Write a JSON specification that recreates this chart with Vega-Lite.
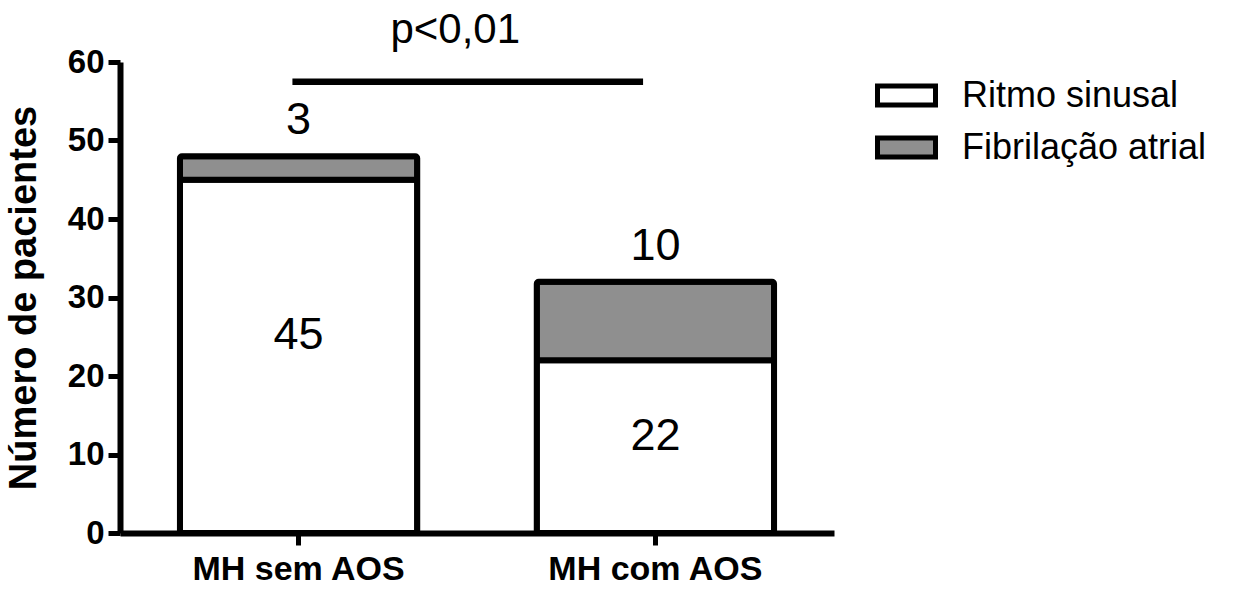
{
  "$schema": "https://vega.github.io/schema/vega-lite/v6.json",
  "autosize": "none",
  "width": 714,
  "height": 471,
  "padding": {"left": 120, "top": 62, "right": 407, "bottom": 58},
  "background": "white",
  "config": {
    "view": {"stroke": null},
    "font": "Liberation Sans",
    "axis": {"labelFont": "Liberation Sans", "titleFont": "Liberation Sans", "domainColor": "black", "tickColor": "black", "labelColor": "black", "titleColor": "black", "grid": false, "labelLimit": 0}
  },
  "datasets": {
    "bars": [
      {"grupo": "MH sem AOS", "ritmo": "Ritmo sinusal", "ord": 1, "n": 45},
      {"grupo": "MH sem AOS", "ritmo": "Fibrilação atrial", "ord": 2, "n": 3},
      {"grupo": "MH com AOS", "ritmo": "Ritmo sinusal", "ord": 1, "n": 22},
      {"grupo": "MH com AOS", "ritmo": "Fibrilação atrial", "ord": 2, "n": 10}
    ],
    "sig": [
      {"grupo": "MH sem AOS", "ate": "MH com AOS", "nivel": 57.5, "label": "p<0,01", "labelNivel": 62.4}
    ]
  },
  "layer": [
    {
      "data": {"name": "bars"},
      "mark": {"type": "bar", "stroke": "black", "strokeWidth": 6, "cornerRadius": 2},
      "encoding": {
        "x": {
          "field": "grupo", "type": "nominal",
          "scale": {"domain": ["MH sem AOS", "MH com AOS"], "paddingInner": 0.335, "paddingOuter": 0.168},
          "axis": {"title": null, "labelAngle": 0, "labelFontSize": 34, "labelFontWeight": "bold", "labelPadding": 7, "tickSize": 12, "tickWidth": 5, "domainWidth": 6}
        },
        "y": {
          "field": "n", "type": "quantitative", "stack": "zero",
          "scale": {"domain": [0, 60], "nice": false},
          "axis": {"title": "Número de pacientes", "values": [0, 10, 20, 30, 40, 50, 60], "labelFontSize": 33, "labelFontWeight": "bold", "labelPadding": 4, "tickSize": 12, "tickWidth": 5, "domainWidth": 6, "titleFontSize": 38, "titleFontWeight": "bold", "titlePadding": 24}
        },
        "fill": {
          "field": "ritmo", "type": "nominal",
          "scale": {"domain": ["Ritmo sinusal", "Fibrilação atrial"], "range": ["white", "#8f8f8f"]},
          "legend": {
            "title": null, "orient": "none", "legendX": 755, "legendY": 2,
            "symbolType": "M-1,-0.33H1V0.33H-1Z", "symbolSize": 3364, "symbolStrokeColor": "black", "symbolStrokeWidth": 5,
            "labelFontSize": 36, "labelFont": "Liberation Sans", "labelColor": "black", "labelOffset": 24, "labelLimit": 0, "rowPadding": -1
          }
        },
        "order": {"field": "ord", "type": "quantitative"}
      }
    },
    {
      "data": {"name": "bars"},
      "transform": [
        {"filter": "datum.ritmo === 'Ritmo sinusal'"},
        {"calculate": "datum.n * 0.56", "as": "pos"}
      ],
      "mark": {"type": "text", "fontSize": 45, "baseline": "middle", "font": "Liberation Sans", "color": "black"},
      "encoding": {
        "x": {"field": "grupo", "type": "nominal"},
        "y": {"field": "pos", "type": "quantitative"},
        "text": {"field": "n", "type": "quantitative"}
      }
    },
    {
      "data": {"name": "bars"},
      "transform": [
        {"joinaggregate": [{"op": "sum", "field": "n", "as": "total"}], "groupby": ["grupo"]},
        {"filter": "datum.ritmo === 'Fibrilação atrial'"}
      ],
      "mark": {"type": "text", "fontSize": 45, "baseline": "alphabetic", "dy": -22, "font": "Liberation Sans", "color": "black"},
      "encoding": {
        "x": {"field": "grupo", "type": "nominal"},
        "y": {"field": "total", "type": "quantitative"},
        "text": {"field": "n", "type": "quantitative"}
      }
    },
    {
      "data": {"name": "sig"},
      "mark": {"type": "rule", "strokeWidth": 6.5, "color": "black"},
      "encoding": {
        "x": {"field": "grupo", "type": "nominal", "bandPosition": 0.474},
        "x2": {"field": "ate", "bandPosition": 0.448},
        "y": {"field": "nivel", "type": "quantitative"}
      }
    },
    {
      "data": {"name": "sig"},
      "mark": {"type": "text", "fontSize": 42, "baseline": "alphabetic", "font": "Liberation Sans", "color": "black"},
      "encoding": {
        "x": {"field": "grupo", "type": "nominal", "bandPosition": 1.16},
        "y": {"field": "labelNivel", "type": "quantitative"},
        "text": {"field": "label", "type": "nominal"}
      }
    }
  ]
}
